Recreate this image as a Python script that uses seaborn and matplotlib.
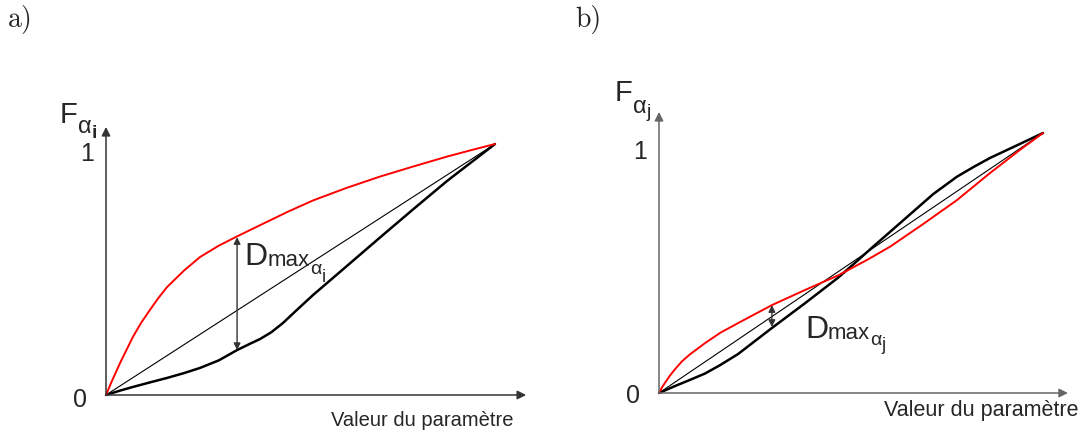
import matplotlib
matplotlib.use('Agg')
import matplotlib.pyplot as plt
import pandas as pd
import seaborn as sns

W, H = 1082, 441

# panel a) -- normalised coordinates (0..1 on both axes)
a_red_x = [0, 0.015, 0.036, 0.069, 0.09, 0.113, 0.135, 0.157, 0.2, 0.242, 0.29, 0.337,
           0.414, 0.47, 0.532, 0.62, 0.704, 0.789, 0.877, 0.94, 1]
a_red_y = [0, 0.055, 0.127, 0.231, 0.287, 0.339, 0.387, 0.430, 0.495, 0.550, 0.595, 0.632,
           0.690, 0.732, 0.775, 0.826, 0.870, 0.910, 0.950, 0.976, 1]
a_black_x = [0, 0.035, 0.069, 0.11, 0.157, 0.2, 0.242, 0.29, 0.337, 0.37, 0.396, 0.425,
             0.455, 0.49, 0.532, 0.62, 0.704, 0.789, 0.877, 1]
a_black_y = [0, 0.017, 0.032, 0.049, 0.068, 0.087, 0.108, 0.138, 0.179, 0.204, 0.223, 0.250,
             0.287, 0.338, 0.398, 0.515, 0.627, 0.739, 0.853, 1]
a_dmax = (0.337, 0.629, 0.179)  # x, top, bottom

# panel b)
b_red_x = [0, 0.008, 0.016, 0.028, 0.042, 0.06, 0.08, 0.120, 0.16, 0.206, 0.294, 0.380,
           0.466, 0.542, 0.602, 0.688, 0.776, 0.862, 0.940, 1]
b_red_y = [0, 0.022, 0.040, 0.066, 0.092, 0.122, 0.148, 0.192, 0.232, 0.269, 0.338, 0.396,
           0.452, 0.512, 0.563, 0.650, 0.742, 0.846, 0.935, 1]
b_black_x = [0, 0.042, 0.080, 0.120, 0.16, 0.206, 0.25, 0.294, 0.380, 0.466, 0.51, 0.557,
             0.646, 0.714, 0.776, 0.82, 0.862, 0.940, 1]
b_black_y = [0, 0.027, 0.050, 0.075, 0.108, 0.150, 0.200, 0.250, 0.345, 0.443, 0.500, 0.562,
             0.677, 0.765, 0.832, 0.870, 0.904, 0.958, 1]
b_dmax = (0.294, 0.338, 0.254)

diag = [0, 1]

x_label = 'Valeur du paramètre'

sns.set_theme(style='white')
plt.rcParams['font.family'] = ['Liberation Sans', 'DejaVu Sans']

fig = plt.figure(figsize=(W / 100, H / 100), dpi=100)
renderer = fig.canvas.get_renderer()


def px_axes(x0, y0, x1, y1):
    # origin pixel (x0, y0) and the (1, 1) corner (x1, y1), pixels from top-left
    ax = fig.add_axes([x0 / W, 1 - y0 / H, (x1 - x0) / W, (y0 - y1) / H])
    ax.set_xlim(0, 1)
    ax.set_ylim(0, 1)
    ax.axis('off')
    return ax


def panel(ax, red_x, red_y, black_x, black_y, dmax, axis_color, x_end, y_end):
    df_red = pd.DataFrame({'x': red_x, 'y': red_y})
    df_black = pd.DataFrame({'x': black_x, 'y': black_y})
    sns.lineplot(x=diag, y=diag, ax=ax, color='black', lw=0.8, clip_on=False)
    sns.lineplot(data=df_black, x='x', y='y', ax=ax, color='black', lw=1.8,
                 sort=False, estimator=None, clip_on=False)
    sns.lineplot(data=df_red, x='x', y='y', ax=ax, color='#ff0000', lw=1.4,
                 sort=False, estimator=None, clip_on=False)
    arrow = dict(arrowstyle='-|>', color=axis_color, lw=1.1, mutation_scale=13,
                 shrinkA=0, shrinkB=0)
    ax.annotate('', xy=(x_end, 0), xytext=(0, 0), arrowprops=arrow, annotation_clip=False)
    ax.annotate('', xy=(0, y_end), xytext=(0, 0), arrowprops=arrow, annotation_clip=False)
    x, top, bottom = dmax
    ax.annotate('', xy=(x, top), xytext=(x, bottom),
                arrowprops=dict(arrowstyle='<|-|>', color='#333333', lw=1.0,
                                mutation_scale=10, shrinkA=0, shrinkB=0),
                annotation_clip=False)


def stacked_label(ax, x, y, pieces):
    # pieces: (text, fontsize, drop in pixels below the main baseline, weight)
    dx = 0.0
    for text, size, drop, weight in pieces:
        t = ax.annotate(text, xy=(x, y), xycoords='data',
                        xytext=(dx * 72 / 100, -drop * 72 / 100), textcoords='offset points',
                        fontsize=size, fontweight=weight, ha='left', va='baseline',
                        annotation_clip=False)
        dx += t.get_window_extent(renderer).width


ax_a = px_axes(106, 395, 495, 144)
panel(ax_a, a_red_x, a_red_y, a_black_x, a_black_y, a_dmax, '#333333', 1.08, 1.068)
ax_a.text(-0.049, 0.96, '1', fontsize=18, ha='center', va='center')
ax_a.text(-0.067, -0.02, '0', fontsize=18, ha='center', va='center')
stacked_label(ax_a, -0.118, 1.084, [('F', 21, 0, 'normal'), ('α', 17, 10, 'normal'),
                                    ('i', 14, 15, 'bold')])
stacked_label(ax_a, 0.357, 0.518, [('D', 23, 0, 'normal'), ('max', 16, 1, 'normal'),
                                   ('α', 14, 9, 'normal'), ('i', 13, 17, 'normal')])
ax_a.text(0.812, -0.10, x_label, fontsize=14.5, ha='center', va='center')

ax_b = px_axes(659, 393, 1043, 133)
panel(ax_b, b_red_x, b_red_y, b_black_x, b_black_y, b_dmax, '#666666', 1.065, 1.081)
ax_b.text(-0.05, 0.927, '1', fontsize=18, ha='center', va='center')
ax_b.text(-0.068, -0.01, '0', fontsize=18, ha='center', va='center')
stacked_label(ax_b, -0.115, 1.123, [('F', 21, 0, 'normal'), ('α', 17, 12, 'normal'),
                                    ('j', 14, 16, 'normal')])
stacked_label(ax_b, 0.380, 0.212, [('D', 23, 0, 'normal'), ('max', 16, 1, 'normal'),
                                   ('α', 14, 7, 'normal'), ('j', 13, 12, 'normal')])
ax_b.text(0.839, -0.069, x_label, fontsize=15.5, ha='center', va='center')

fig.text(8 / W, 1 - 19 / H, 'a)', family='cmr10', fontsize=20, ha='left', va='center')
fig.text(575 / W, 1 - 19 / H, 'b)', family='cmr10', fontsize=20, ha='left', va='center')

fig.savefig('out.png', dpi=100)
